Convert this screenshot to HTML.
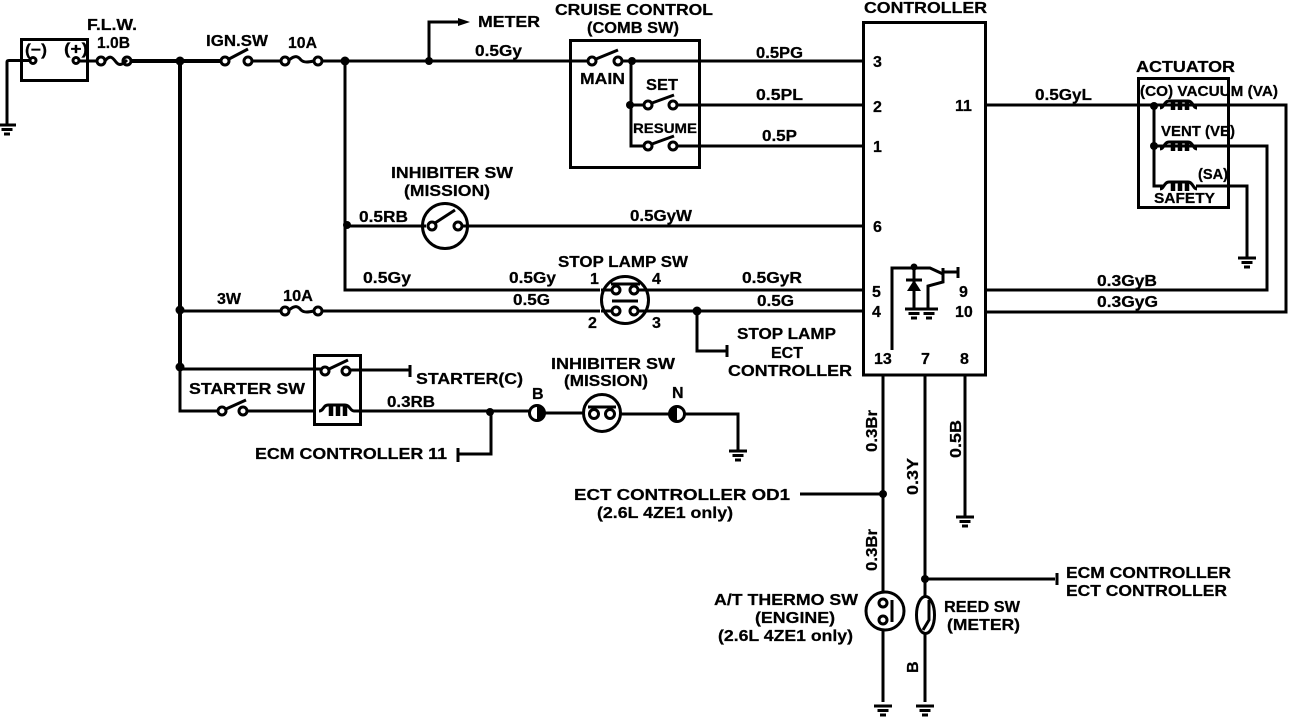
<!DOCTYPE html>
<html><head><meta charset="utf-8"><style>
html,body{margin:0;padding:0;background:#fff}
svg{display:block}
text{font-family:"Liberation Sans",sans-serif;font-weight:bold;font-size:16px;fill:#000;stroke:#000;stroke-width:.25}
.w{fill:none;stroke:#000;stroke-width:3}
.t{fill:none;stroke:#000;stroke-width:4}
.c{fill:#fff;stroke:#000;stroke-width:3}
.d{fill:#000}
</style></head><body>
<svg width="1312" height="718" viewBox="0 0 1312 718" xmlns="http://www.w3.org/2000/svg">
<defs>
<g id="g"><path d="M-9 1H9M-5.500 5.500H5.500M-3 10H3" fill="none" stroke="#000" stroke-width="3"/></g>
<g id="f"><path d="M4 0C9-7 12-3 15 1C18 5 21 4 26-1" fill="none" stroke="#000" stroke-width="3"/></g>
<g id="k"><path d="M0 3C4 3 4-4 9-4H28C33-4 33 3 37 3" fill="none" stroke="#000" stroke-width="3"/><path d="M13-3V5M20-3V5M27-3V5" fill="none" stroke="#000" stroke-width="4.500"/></g>
</defs>
<!-- battery -->
<rect x="21.500" y="39.500" width="66" height="41" class="w"/>
<path class="w" d="M7 125V62Q7 60.500 9 60.500H30M79 61H97"/>
<circle class="c" cx="33" cy="60.500" r="3"/><circle class="c" cx="76" cy="60.500" r="3"/>
<use href="#g" x="7" y="124"/>
<circle class="c" cx="101" cy="61" r="4"/><circle class="c" cx="127" cy="61" r="4"/>
<use href="#f" x="101" y="61"/>
<path class="t" d="M132 61H221M180 61V367"/>
<path class="w" d="M180 367V411H218M180 369H322"/>
<circle class="d" cx="180" cy="61" r="4.500"/>
<circle class="d" cx="180" cy="310" r="4.500"/>
<circle class="d" cx="180" cy="367" r="4.500"/>
<!-- IGN -->
<circle class="c" cx="225" cy="61" r="4"/><circle class="c" cx="248" cy="61" r="4"/>
<path class="w" d="M229 59L248 49M252 61H281M322 61H588M622 61H864"/>
<circle class="c" cx="285" cy="61" r="4"/><circle class="c" cx="318" cy="61" r="4"/>
<path class="w" d="M289 60C295 55 298 56 301 60C304 63 309 62 314 61"/>
<circle class="d" cx="345" cy="61" r="4.500"/>
<circle class="d" cx="429" cy="61" r="4"/>
<path class="w" d="M429 61V22H462"/><path class="d" d="M458 18L470 22L458 26Z"/>
<path class="w" d="M345 61V290H600M347 226H426M463 226H864"/>
<circle class="d" cx="347" cy="225" r="4"/>
<circle cx="445" cy="226" r="22.500" class="w" fill="#fff"/>
<circle class="c" cx="432" cy="226" r="4"/><circle class="c" cx="458" cy="226" r="4"/>
<path class="w" d="M435 223L455 210"/>
<!-- cruise -->
<rect x="570.500" y="40.500" width="129" height="127" class="w"/>
<circle class="c" cx="592" cy="61" r="4"/><circle class="c" cx="618" cy="61" r="4"/>
<path class="w" d="M596 59L618 50"/>
<path class="w" d="M631 61V146H644M631 105H644M678 105H864M678 146H864"/>
<circle class="d" cx="632" cy="61" r="4"/><circle class="d" cx="630" cy="105" r="4"/>
<circle class="c" cx="648" cy="105" r="4"/><circle class="c" cx="673" cy="105" r="4"/>
<path class="w" d="M652 103L674 95"/>
<circle class="c" cx="648" cy="146" r="4"/><circle class="c" cx="673" cy="146" r="4"/>
<path class="w" d="M652 144L674 136"/>
<!-- controller -->
<path class="w" d="M863.500 375V22.500H985.500V375M862 375H987"/>
<path class="w" d="M985 105H1286V312H985M985 290H1267V146H1154M1154 105V186H1164M1196 186H1247V257"/>
<use href="#g" x="1247" y="257"/>
<!-- actuator -->
<rect x="1138.500" y="78.500" width="90" height="129" class="w"/>
<circle class="d" cx="1154" cy="106" r="4"/><circle class="d" cx="1154" cy="146" r="4"/>
<use href="#k" x="1160" y="105"/><use href="#k" x="1160" y="146"/><use href="#k" x="1160" y="186"/>
<!-- diode & transistor -->
<path class="w" d="M892 350V268H930L943 274M914 267V308M958 272H943M943 268V282L928 286V308"/>
<circle class="d" cx="914" cy="267" r="3.500"/>
<path class="d" d="M914 280L907 291H921Z"/><path class="w" d="M906 280H922"/>
<path class="w" d="M958 267V278"/>
<use href="#g" x="914" y="308"/><use href="#g" x="929" y="308"/>
<!-- stop lamp -->
<path class="w" d="M180 311H281M322 311H600M648 290H864M648 311H864"/>
<circle class="c" cx="285" cy="311" r="4"/><circle class="c" cx="318" cy="311" r="4"/>
<path class="w" d="M289 310C295 305 298 306 301 310C304 313 309 312 314 311"/>
<circle cx="625" cy="300" r="23.500" class="w" fill="#fff"/>
<path class="w" d="M601 290H612M601 311H612M638 290H650M638 311H650M612 301H638M611 284H640"/>
<circle class="c" cx="616" cy="290" r="4"/><circle class="c" cx="634" cy="290" r="4"/>
<circle class="c" cx="616" cy="311" r="4"/><circle class="c" cx="634" cy="311" r="4"/>
<circle class="d" cx="697" cy="311" r="4.500"/>
<path class="w" d="M697 311V351H726M727 345V357"/>
<!-- starter -->
<rect x="314.500" y="355.500" width="46" height="69" class="w"/>
<circle class="c" cx="325" cy="371" r="4"/><circle class="c" cx="346" cy="371" r="4"/>
<path class="w" d="M329 369L348 360M350 370H410M410 365V377"/>
<circle class="c" cx="222" cy="411" r="4"/><circle class="c" cx="243" cy="411" r="4"/>
<path class="w" d="M226 409L246 400M247 411H316"/>
<path class="w" d="M319 411C324 411 323 405 328 405H345C350 405 350 411 354 411H530M491 412V454H459M458 448V462"/>
<path d="M331 405V416M338 405V416M345 405V416" fill="none" stroke="#000" stroke-width="4.500"/>
<circle class="d" cx="490" cy="412" r="4"/>
<circle cx="537" cy="413" r="7.500" class="w" fill="#fff"/><path class="d" d="M537 405A8 8 0 0 1 537 421Z"/>
<path class="w" d="M545 413H584M620 414H670M685 414H738V450"/>
<use href="#g" x="738" y="450"/>
<circle cx="602" cy="413" r="18.500" class="w" fill="#fff"/>
<path class="w" d="M588 407H616"/>
<circle class="c" cx="594" cy="414" r="4.500"/><circle class="c" cx="610" cy="414" r="4.500"/>
<circle cx="677" cy="414" r="7.500" class="w" fill="#fff"/><path class="d" d="M677 406A8 8 0 0 0 677 422Z"/>
<!-- bottom wires -->
<path class="w" d="M883 375V592M883 630V702M925 375V598M925 634V702M965 375V516M800 494H883M925 579H1055M1057 573V585"/>
<circle class="d" cx="883" cy="494" r="4"/><circle class="d" cx="925" cy="579" r="4"/>
<use href="#g" x="965" y="516"/><use href="#g" x="883" y="705"/><use href="#g" x="925" y="705"/>
<circle cx="885" cy="611" r="19" class="w" fill="#fff"/>
<circle class="c" cx="883" cy="603" r="4"/><circle class="c" cx="883" cy="620" r="4"/>
<path class="w" d="M892 600V622"/>
<ellipse cx="925.500" cy="615" rx="9" ry="18.500" class="w" fill="#fff"/>
<path class="w" d="M929 600V620L923 630"/>
<!-- labels -->
<text x="87" y="30" textLength="50" lengthAdjust="spacingAndGlyphs">F.L.W.</text>
<text x="97" y="48" textLength="33" lengthAdjust="spacingAndGlyphs">1.0B</text>
<text x="25" y="55" textLength="22" lengthAdjust="spacingAndGlyphs">(−)</text>
<text x="64" y="54" textLength="24" lengthAdjust="spacingAndGlyphs">(+)</text>
<text x="206" y="46" textLength="62" lengthAdjust="spacingAndGlyphs">IGN.SW</text>
<text x="288" y="48" textLength="29" lengthAdjust="spacingAndGlyphs">10A</text>
<text x="478" y="27" textLength="62" lengthAdjust="spacingAndGlyphs">METER</text>
<text x="475" y="56" textLength="47" lengthAdjust="spacingAndGlyphs">0.5Gy</text>
<text x="555" y="15" textLength="158" lengthAdjust="spacingAndGlyphs">CRUISE CONTROL</text>
<text x="587" y="33" textLength="92" lengthAdjust="spacingAndGlyphs">(COMB SW)</text>
<text x="864" y="13" textLength="123" lengthAdjust="spacingAndGlyphs">CONTROLLER</text>
<text x="756" y="58" textLength="47" lengthAdjust="spacingAndGlyphs">0.5PG</text>
<text x="580" y="84" textLength="45" lengthAdjust="spacingAndGlyphs">MAIN</text>
<text x="646" y="90" textLength="32" lengthAdjust="spacingAndGlyphs">SET</text>
<text x="756" y="100" textLength="47" lengthAdjust="spacingAndGlyphs">0.5PL</text>
<text x="633" y="133" textLength="64" lengthAdjust="spacingAndGlyphs" style="font-size:14px">RESUME</text>
<text x="762" y="141" textLength="35" lengthAdjust="spacingAndGlyphs">0.5P</text>
<text x="873" y="67">3</text><text x="873" y="112">2</text><text x="873" y="152">1</text>
<text x="955" y="111">11</text><text x="873" y="232">6</text>
<text x="872" y="297">5</text><text x="872" y="317">4</text>
<text x="959" y="297">9</text><text x="955" y="317">10</text>
<text x="874" y="364">13</text><text x="921" y="364">7</text><text x="960" y="364">8</text>
<text x="1136" y="72" textLength="99" lengthAdjust="spacingAndGlyphs">ACTUATOR</text>
<text x="1140" y="96" textLength="138" lengthAdjust="spacingAndGlyphs" style="font-size:15px">(CO) VACUUM (VA)</text>
<text x="1161" y="136" textLength="74" lengthAdjust="spacingAndGlyphs" style="font-size:15px">VENT (VE)</text>
<text x="1198" y="179" textLength="30" lengthAdjust="spacingAndGlyphs" style="font-size:15px">(SA)</text>
<text x="1154" y="203" textLength="61" lengthAdjust="spacingAndGlyphs" style="font-size:15px">SAFETY</text>
<text x="1035" y="100" textLength="57" lengthAdjust="spacingAndGlyphs">0.5GyL</text>
<text x="391" y="178" textLength="122" lengthAdjust="spacingAndGlyphs">INHIBITER SW</text>
<text x="404" y="196" textLength="86" lengthAdjust="spacingAndGlyphs">(MISSION)</text>
<text x="359" y="222" textLength="49" lengthAdjust="spacingAndGlyphs">0.5RB</text>
<text x="630" y="221" textLength="62" lengthAdjust="spacingAndGlyphs">0.5GyW</text>
<text x="558" y="267" textLength="130" lengthAdjust="spacingAndGlyphs">STOP LAMP SW</text>
<text x="590" y="284">1</text><text x="652" y="284">4</text><text x="588" y="328">2</text><text x="652" y="328">3</text>
<text x="363" y="283" textLength="48" lengthAdjust="spacingAndGlyphs">0.5Gy</text>
<text x="509" y="283" textLength="47" lengthAdjust="spacingAndGlyphs">0.5Gy</text>
<text x="742" y="283" textLength="60" lengthAdjust="spacingAndGlyphs">0.5GyR</text>
<text x="1097" y="286" textLength="60" lengthAdjust="spacingAndGlyphs">0.3GyB</text>
<text x="1097" y="307" textLength="61" lengthAdjust="spacingAndGlyphs">0.3GyG</text>
<text x="217" y="304" textLength="24" lengthAdjust="spacingAndGlyphs">3W</text>
<text x="283" y="301" textLength="30" lengthAdjust="spacingAndGlyphs">10A</text>
<text x="513" y="305" textLength="37" lengthAdjust="spacingAndGlyphs">0.5G</text>
<text x="757" y="306" textLength="37" lengthAdjust="spacingAndGlyphs">0.5G</text>
<text x="737" y="339" textLength="99" lengthAdjust="spacingAndGlyphs">STOP LAMP</text>
<text x="771" y="358" textLength="32" lengthAdjust="spacingAndGlyphs">ECT</text>
<text x="728" y="376" textLength="124" lengthAdjust="spacingAndGlyphs">CONTROLLER</text>
<text x="551" y="369" textLength="124" lengthAdjust="spacingAndGlyphs">INHIBITER SW</text>
<text x="564" y="386" textLength="84" lengthAdjust="spacingAndGlyphs">(MISSION)</text>
<text x="189" y="394" textLength="116" lengthAdjust="spacingAndGlyphs">STARTER SW</text>
<text x="416" y="384" textLength="107" lengthAdjust="spacingAndGlyphs">STARTER(C)</text>
<text x="387" y="407" textLength="48" lengthAdjust="spacingAndGlyphs">0.3RB</text>
<text x="532" y="399">B</text><text x="672" y="398">N</text>
<text x="255" y="459" textLength="192" lengthAdjust="spacingAndGlyphs">ECM CONTROLLER 11</text>
<text x="574" y="500" textLength="216" lengthAdjust="spacingAndGlyphs">ECT CONTROLLER OD1</text>
<text x="597" y="518" textLength="136" lengthAdjust="spacingAndGlyphs">(2.6L 4ZE1 only)</text>
<text x="714" y="605" textLength="144" lengthAdjust="spacingAndGlyphs">A/T THERMO SW</text>
<text x="755" y="623" textLength="80" lengthAdjust="spacingAndGlyphs">(ENGINE)</text>
<text x="718" y="641" textLength="135" lengthAdjust="spacingAndGlyphs">(2.6L 4ZE1 only)</text>
<text x="944" y="612" textLength="76" lengthAdjust="spacingAndGlyphs">REED SW</text>
<text x="947" y="630" textLength="73" lengthAdjust="spacingAndGlyphs">(METER)</text>
<text x="1066" y="578" textLength="165" lengthAdjust="spacingAndGlyphs">ECM CONTROLLER</text>
<text x="1066" y="596" textLength="161" lengthAdjust="spacingAndGlyphs">ECT CONTROLLER</text>
<text transform="translate(877 452) rotate(-90)" textLength="42" lengthAdjust="spacingAndGlyphs">0.3Br</text>
<text transform="translate(918 495) rotate(-90)" textLength="37" lengthAdjust="spacingAndGlyphs">0.3Y</text>
<text transform="translate(961 458) rotate(-90)" textLength="38" lengthAdjust="spacingAndGlyphs">0.5B</text>
<text transform="translate(877 571) rotate(-90)" textLength="42" lengthAdjust="spacingAndGlyphs">0.3Br</text>
<text transform="translate(918 673) rotate(-90)">B</text>
</svg>
</body></html>
